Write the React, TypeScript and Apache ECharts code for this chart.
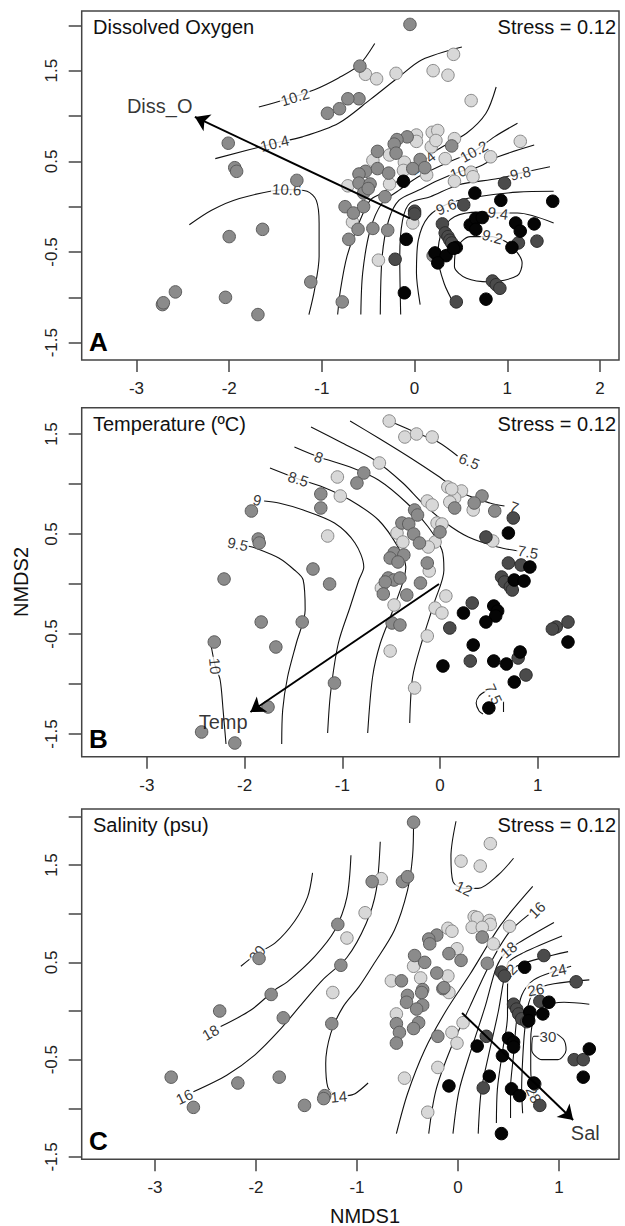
import React, { useEffect, useRef } from "react";
import * as echarts from "echarts";

type P = [number, number];
interface Contour { text?: string; at?: P; rot?: number; lines: P[][] }

const FONT = "'Liberation Sans', Arial, Helvetica, sans-serif";

// ---------- tick values ----------
const xTicksA = [-3, -2, -1, 0, 1, 2];
const xTicksB = [-3, -2, -1, 0, 1];
const xTicksC = [-3, -2, -1, 0, 1];
const yTicksA = [-1.5, -1, -0.5, 0, 0.5, 1, 1.5, 2];
const yTicksB = [-1.5, -1, -0.5, 0, 0.5, 1, 1.5];
const yTicksC = [-1.5, -1, -0.5, 0, 0.5, 1, 1.5, 2];
const yLabels = [-1.5, -0.5, 0.5, 1.5];

// ---------- Panel A : Dissolved Oxygen ----------
const lightA: P[] = [[-0.53,1.46],[-0.41,1.41],[-0.20,1.47],[0.42,1.68],[0.20,1.50],[0.36,1.45],[0.61,1.17],[1.14,0.72],[0.82,0.55],[0.19,0.82],[0.25,0.84],[0.02,0.79],[0.02,0.72],[0.43,0.75],[0.18,0.66],[0.23,0.73],[-0.27,0.57],[-0.45,0.51],[0.33,0.53],[-0.11,0.49],[-0.12,0.40],[0.13,0.35],[0.61,0.38],[0.43,0.28],[0.63,0.33],[-0.27,0.25],[-0.72,0.23],[-0.67,-0.17],[-0.02,-0.18],[-0.39,-0.59]];
const mediumA: P[] = [[-0.05,2.01],[-0.59,1.55],[-0.60,1.19],[-0.72,1.19],[-0.81,1.08],[-0.94,1.03],[-2.01,0.70],[-1.94,0.43],[-1.92,0.39],[-1.27,0.29],[-0.08,0.77],[-0.19,0.74],[-0.22,0.69],[0.40,0.67],[-0.40,0.61],[-0.20,0.59],[0.06,0.52],[-0.02,0.42],[0.11,0.43],[-0.53,0.39],[-0.40,0.42],[-0.28,0.37],[-0.60,0.36],[-0.60,0.26],[-0.48,0.25],[-0.55,0.15],[-0.32,0.11],[-0.50,0.20],[-0.75,0.00],[-0.66,-0.07],[-0.55,0.00],[-0.61,-0.25],[-0.45,-0.24],[-0.29,-0.26],[-0.71,-0.36],[0.20,-0.54],[-1.12,-0.83],[-0.78,-1.05],[-2.00,-0.33],[-1.64,-0.25],[-2.58,-0.94],[-2.04,-1.00],[-2.72,-1.08],[-2.71,-1.06],[-1.69,-1.19]];
const darkA: P[] = [[0.97,0.26],[0.53,0.02],[0.00,-0.05],[0.00,-0.08],[0.30,-0.19],[0.33,-0.29],[0.36,-0.33],[0.38,-0.37],[0.40,-0.40],[-0.21,-0.58],[1.12,-0.40],[1.32,-0.38],[0.84,-0.82],[0.88,-0.86],[0.92,-0.90],[0.45,-1.05]];
const blackA: P[] = [[-0.12,0.28],[0.65,0.15],[0.93,0.07],[1.49,0.06],[0.60,-0.20],[0.66,-0.13],[0.73,-0.12],[0.66,-0.25],[1.09,-0.18],[1.29,-0.19],[1.14,-0.27],[1.05,-0.45],[0.22,-0.51],[0.34,-0.54],[0.25,-0.62],[0.45,-0.45],[0.42,-0.46],[-0.09,-0.36],[-0.11,-0.95],[0.77,-1.02]];
const contoursA: Contour[] = [
  { text: "10.2", at: [-1.29, 1.21], rot: 17, lines: [[[-1.68,1.10],[-1.40,1.18],[-1.08,1.29],[-0.82,1.42],[-0.60,1.56],[-0.43,1.80]]] },
  { text: "10.4", at: [-1.51, 0.70], rot: 14, lines: [[[-2.15,0.53],[-1.51,0.70],[-1.21,0.77],[-0.82,0.92],[-0.48,1.18],[-0.17,1.43],[0.08,1.62],[0.51,1.76]]] },
  { text: "10.6", at: [-1.38, 0.19], rot: -3, lines: [[[-2.43,-0.20],[-2.19,-0.04],[-1.89,0.09],[-1.38,0.19],[-1.16,0.17],[-1.06,0.07],[-1.03,-0.18],[-1.03,-0.55],[-1.08,-0.92],[-1.14,-1.19]]] },
  { text: "10.4", at: [0.08, 0.48], rot: 37, lines: [[[0.88,1.32],[0.77,1.03],[0.56,0.81],[0.25,0.63],[0.08,0.48],[-0.17,0.29],[-0.35,0.15],[-0.48,0.07],[-0.60,-0.18],[-0.73,-0.55],[-0.80,-0.92],[-0.83,-1.19]]] },
  { text: "10.2", at: [0.64, 0.61], rot: 29, lines: [[[1.11,0.92],[0.86,0.77],[0.64,0.61],[0.34,0.48],[0.04,0.33],[-0.17,0.18],[-0.35,0.04],[-0.48,-0.26],[-0.56,-0.73],[-0.58,-1.19]]] },
  { text: "10", at: [0.47, 0.38], rot: 20, lines: [[[1.29,0.68],[0.90,0.55],[0.69,0.44],[0.47,0.38],[0.25,0.29],[0.04,0.18],[-0.17,0.07],[-0.28,-0.15],[-0.35,-0.55],[-0.37,-1.19]]] },
  { text: "9.8", at: [1.14, 0.37], rot: 12, lines: [[[1.46,0.44],[1.14,0.37],[0.90,0.31],[0.47,0.24],[0.17,0.11],[-0.05,0.04],[-0.13,-0.15],[-0.16,-0.55],[-0.15,-1.19]]] },
  { text: "9.6", at: [0.34, 0.00], rot: 22, lines: [[[1.50,0.17],[1.11,0.16],[0.68,0.11],[0.38,0.04],[0.15,-0.11],[0.04,-0.37],[0.02,-0.73],[0.06,-1.08]]] },
  { text: "9.4", at: [0.90, -0.07], rot: -8, lines: [[[1.50,-0.18],[1.11,-0.07],[0.90,-0.07],[0.69,-0.06],[0.43,-0.11],[0.30,-0.26],[0.25,-0.55],[0.32,-0.85],[0.43,-1.08]]] },
  { text: "9.2", at: [0.84, -0.33], rot: -15, lines: [[[0.84,-0.33],[0.60,-0.33],[0.45,-0.46],[0.43,-0.66],[0.56,-0.79],[0.81,-0.83],[1.11,-0.76],[1.16,-0.62],[1.11,-0.51],[0.99,-0.39],[0.84,-0.33]]] },
];
const arrowA: P[] = [[-0.05, -0.13], [-2.37, 0.99]];
const arrowLabelA: P = [-2.75, 1.11];

// ---------- Panel B : Temperature ----------
const lightB: P[] = [[-0.52,1.63],[-0.36,1.47],[-0.24,1.50],[-0.08,1.47],[-0.62,1.21],[-1.05,1.07],[-1.02,0.88],[-1.15,0.48],[0.08,0.97],[0.22,0.93],[0.15,0.86],[0.12,0.95],[0.34,0.74],[0.10,0.82],[0.54,0.43],[-0.13,0.83],[-0.08,0.79],[-0.03,0.61],[0.02,0.60],[-0.44,0.51],[-0.38,0.42],[-0.05,0.42],[-0.12,0.37],[-0.11,0.13],[-0.60,-0.04],[0.06,-0.12],[-0.47,-0.21],[-0.05,-0.24],[0.02,-0.29],[-0.13,-0.52],[-0.51,-0.67],[-0.26,-1.04]];
const mediumB: P[] = [[-0.78,1.11],[-0.85,1.01],[-1.22,0.90],[-1.22,0.76],[-1.93,0.73],[-1.86,0.45],[-1.85,0.41],[0.43,0.88],[0.35,0.81],[0.15,0.76],[0.56,0.73],[-0.26,0.74],[-0.23,0.69],[-0.39,0.61],[-0.32,0.60],[0.00,0.52],[-0.27,0.50],[-0.21,0.41],[-0.47,0.31],[-0.51,0.26],[-0.37,0.29],[-0.13,0.21],[-0.43,0.22],[-1.30,0.15],[-0.53,0.06],[-0.47,0.04],[-0.41,0.06],[-0.56,0.02],[-0.20,0.01],[-0.58,-0.10],[-0.34,-0.11],[-0.49,-0.39],[-0.41,-0.41],[-2.21,0.05],[-1.83,-0.38],[-1.41,-0.38],[-1.13,0.00],[-2.31,-0.58],[-1.68,-0.63],[-1.08,-0.99],[-1.76,-1.23],[-2.44,-1.48],[-2.10,-1.59]];
const darkB: P[] = [[0.75,0.66],[0.47,0.47],[0.70,0.21],[0.83,0.19],[0.63,0.07],[0.66,0.02],[0.72,-0.03],[0.74,-0.06],[0.10,-0.44],[0.33,-0.19],[0.31,-0.77],[0.80,-0.74],[0.88,-0.91],[1.19,-0.43],[1.31,-0.38],[1.15,-0.45]];
const blackB: P[] = [[0.70,0.51],[0.92,0.17],[0.76,0.04],[0.86,0.03],[0.24,-0.29],[0.55,-0.22],[0.59,-0.27],[0.57,-0.32],[0.47,-0.38],[0.34,-0.61],[0.03,-0.82],[0.55,-0.77],[0.68,-0.80],[0.82,-0.68],[0.76,-0.98],[0.50,-1.24],[1.31,-0.58]];
const contoursB: Contour[] = [
  { text: "6.5", at: [0.30, 1.23], rot: -22, lines: [[[-0.47,1.61],[-0.26,1.52],[-0.02,1.42],[0.18,1.28]]] },
  { text: "7", at: [0.76, 0.77], rot: -20, lines: [[[-0.92,1.63],[-0.63,1.46],[-0.30,1.26],[-0.02,1.08],[0.23,0.91],[0.51,0.81],[0.66,0.78]]] },
  { text: "7.5", at: [0.90, 0.32], rot: -10, lines: [[[-1.32,1.57],[-1.00,1.41],[-0.67,1.24],[-0.38,1.01],[-0.18,0.81],[0.06,0.61],[0.29,0.47],[0.59,0.37],[0.80,0.33]]] },
  { text: "8", at: [-1.24, 1.27], rot: -20, lines: [[[-1.49,1.37],[-1.24,1.27],[-0.92,1.17],[-0.63,1.04],[-0.34,0.81],[-0.12,0.57],[0.02,0.34],[0.04,0.14],[-0.06,-0.19],[-0.18,-0.56],[-0.28,-0.93],[-0.31,-1.39]]] },
  { text: "8.5", at: [-1.45, 1.05], rot: -18, lines: [[[-1.74,1.16],[-1.45,1.05],[-1.20,0.97],[-0.92,0.84],[-0.63,0.64],[-0.43,0.37],[-0.35,0.17],[-0.47,-0.23],[-0.61,-0.59],[-0.69,-0.93],[-0.74,-1.49]]] },
  { text: "9", at: [-1.87, 0.84], rot: -12, lines: [[[-1.80,0.83],[-1.65,0.81],[-1.40,0.74],[-1.08,0.61],[-0.87,0.41],[-0.78,0.17],[-0.83,0.04],[-0.92,-0.23],[-1.04,-0.59],[-1.12,-1.09],[-1.15,-1.49]]] },
  { text: "9.5", at: [-2.07, 0.40], rot: -12, lines: [[[-1.97,0.38],[-1.89,0.36],[-1.65,0.26],[-1.49,0.14],[-1.40,0.04],[-1.38,-0.26],[-1.47,-0.59],[-1.56,-0.93],[-1.61,-1.26],[-1.62,-1.60]]] },
  { text: "10", at: [-2.30, -0.82], rot: -85, lines: [[[-2.34,-0.63],[-2.30,-0.82],[-2.25,-0.96],[-2.22,-1.26],[-2.19,-1.60]]] },
  { text: "7.5", at: [0.55, -1.10], rot: -65, lines: [[[0.47,-1.07],[0.40,-1.12],[0.37,-1.19],[0.40,-1.27],[0.44,-1.30]], [[0.65,-1.17],[0.65,-1.28]]] },
];
const arrowB: P[] = [[-0.01, 0.00], [-1.94, -1.28]];
const arrowLabelB: P = [-2.22, -1.38];

// ---------- Panel C : Salinity ----------
const lightC: P[] = [[0.32,1.72],[0.03,1.54],[0.22,1.49],[-0.76,1.36],[-0.92,1.01],[-1.10,0.75],[0.16,0.97],[0.19,0.96],[0.31,0.93],[0.32,0.89],[0.14,0.86],[0.24,0.86],[0.51,0.87],[-0.10,0.85],[-0.06,0.82],[0.35,0.69],[-0.01,0.64],[-0.44,0.46],[-0.10,0.36],[-0.37,0.34],[-0.66,0.31],[-1.24,0.19],[-0.09,0.19],[-0.61,-0.03],[-0.06,-0.22],[-0.01,-0.33],[0.05,-0.12],[-0.20,-0.58],[-0.53,-0.69],[-0.30,-1.04]];
const mediumC: P[] = [[-0.44,1.94],[-0.85,1.33],[-0.55,1.33],[-0.50,1.38],[-1.19,0.89],[-1.16,0.47],[-1.97,0.54],[-0.21,0.78],[-0.29,0.74],[-0.28,0.69],[0.24,0.76],[-0.09,0.59],[0.03,0.52],[-0.43,0.57],[-0.33,0.50],[0.29,0.49],[-0.21,0.39],[-0.56,0.31],[-0.35,0.22],[-0.15,0.23],[-1.85,0.17],[-2.36,0.00],[-1.73,-0.07],[-1.25,-0.13],[-0.50,0.16],[-0.51,0.09],[-0.36,0.19],[-0.35,0.06],[-0.41,0.02],[-0.14,0.24],[-0.61,-0.13],[-0.58,-0.22],[-0.39,-0.12],[-0.44,-0.18],[-0.61,-0.33],[-0.20,-0.26],[-2.84,-0.68],[-2.62,-0.99],[-2.18,-0.74],[-1.77,-0.68],[-1.52,-0.97],[-1.32,-0.87],[-1.33,-0.90]];
const darkC: P[] = [[0.43,0.40],[0.85,0.57],[1.17,0.30],[0.28,-0.26],[0.25,-0.79],[0.81,-0.97],[0.55,0.07],[0.58,0.02],[0.60,-0.03],[0.63,-0.08],[0.68,-0.11],[0.81,0.10],[0.76,-0.75],[1.15,-0.50],[1.24,-0.50],[0.46,0.36]];
const blackC: P[] = [[0.66,0.45],[-0.09,-0.77],[0.19,-0.36],[0.31,-0.67],[0.44,-0.46],[0.50,-0.28],[0.55,-0.32],[0.55,-0.37],[0.53,-0.80],[0.61,-0.87],[0.75,-0.74],[0.43,-1.26],[0.71,-0.01],[0.90,0.09],[0.84,-0.03],[0.70,-0.10],[1.30,-0.39],[1.24,-0.68]];
const contoursC: Contour[] = [
  { text: "20", at: [-1.99, 0.59], rot: 50, lines: [[[-2.15,0.46],[-1.99,0.59],[-1.81,0.70],[-1.62,0.92],[-1.49,1.17],[-1.44,1.42]]] },
  { text: "18", at: [-2.45, -0.22], rot: 30, lines: [[[-2.35,-0.16],[-2.05,0.01],[-1.81,0.22],[-1.69,0.30],[-1.42,0.56],[-1.22,0.83],[-1.10,1.17],[-1.06,1.60]]] },
  { text: "16", at: [-2.71, -0.88], rot: 25, lines: [[[-2.62,-0.83],[-2.29,-0.66],[-2.01,-0.45],[-1.77,-0.20],[-1.54,0.08],[-1.34,0.32],[-1.10,0.55],[-0.91,0.90],[-0.81,1.24],[-0.77,1.74]]] },
  { text: "14", at: [-1.18, -0.88], rot: 5, lines: [[[-0.44,1.95],[-0.45,1.59],[-0.50,1.24],[-0.63,0.83],[-0.83,0.49],[-0.98,0.25],[-1.14,0.04],[-1.26,-0.23],[-1.31,-0.54],[-1.29,-0.78],[-1.22,-0.87]], [[-1.10,-0.87],[-1.02,-0.85],[-0.89,-0.74]]] },
  { text: "12", at: [0.06, 1.26], rot: -25, lines: [[[-0.02,1.95],[-0.07,1.59],[-0.05,1.33],[0.06,1.26],[0.20,1.26],[0.40,1.40],[0.55,1.57]]] },
  { lines: [[[-0.61,-1.26],[-0.50,-0.85],[-0.33,-0.40],[-0.12,0.00],[0.12,0.38],[0.42,0.88],[0.74,1.28]]] },
  { text: "16", at: [0.78, 1.04], rot: 45, lines: [[[-0.29,-1.26],[-0.22,-0.82],[-0.07,-0.38],[0.12,0.05],[0.30,0.45],[0.50,0.80],[0.70,0.99]]] },
  { text: "18", at: [0.50, 0.63], rot: 40, lines: [[[-0.05,-1.26],[0.01,-0.82],[0.13,-0.40],[0.27,0.05],[0.38,0.45],[0.47,0.60],[0.60,0.70],[0.95,0.91]]] },
  { lines: [[[0.20,-1.26],[0.23,-0.82],[0.31,-0.42],[0.40,0.00],[0.45,0.30],[0.50,0.50],[0.65,0.60],[1.03,0.77]]] },
  { text: "22", at: [0.50, 0.40], rot: 45, lines: [[[0.38,-1.15],[0.39,-0.80],[0.44,-0.42],[0.49,-0.05],[0.49,0.22],[0.50,0.38],[0.62,0.48],[1.09,0.61]]] },
  { text: "24", at: [0.99, 0.42], rot: 12, lines: [[[0.52,-1.10],[0.52,-0.80],[0.55,-0.45],[0.58,-0.10],[0.63,0.16],[0.75,0.32],[0.99,0.42],[1.12,0.46]]] },
  { text: "26", at: [0.77, 0.22], rot: 10, lines: [[[0.64,-1.05],[0.63,-0.80],[0.64,-0.50],[0.66,-0.20],[0.70,0.08],[0.77,0.22],[0.95,0.28],[1.30,0.32]]] },
  { text: "28", at: [0.75, -0.86], rot: -65, lines: [[[1.30,0.07],[1.05,0.09],[0.85,0.05],[0.76,-0.05],[0.72,-0.30],[0.72,-0.60],[0.75,-0.86],[0.80,-1.00]]] },
  { text: "30", at: [0.89, -0.26], rot: 0, lines: [[[0.82,-0.26],[0.75,-0.26],[0.73,-0.40],[0.83,-0.50],[0.99,-0.50],[1.07,-0.40],[1.05,-0.30],[0.97,-0.23]]] },
];
const arrowC: P[] = [[0.04, -0.02], [1.14, -1.12]];
const arrowLabelC: P = [1.26, -1.25];

// ---------- layout ----------
const LEFT = 81.7, RIGHT = 619;
const panels = [
  { top: 11, bottom: 360, x: [-3.591, 2.205], y: [-1.691, 2.158], xt: xTicksA, yt: yTicksA },
  { top: 407.7, bottom: 756.7, x: [-3.667, 1.832], y: [-1.727, 1.763], xt: xTicksB, yt: yTicksB },
  { top: 809, bottom: 1159.3, x: [-3.726, 1.594], y: [-1.524, 2.076], xt: xTicksC, yt: yTicksC },
];

const shades = [
  { fill: "#d8d8d8", border: "#8a8a8a" },
  { fill: "#8b8b8b", border: "#5c5c5c" },
  { fill: "#4b4b4b", border: "#2c2c2c" },
  { fill: "#050505", border: "#000000" },
];

function panelSeries(i: number, contours: Contour[], groups: P[][], arrow: P[], arrowText: string, arrowAt: P) {
  const s: any[] = [];
  contours.forEach((c) => {
    c.lines.forEach((pts) => {
      s.push({
        type: "line", xAxisIndex: i, yAxisIndex: i, data: pts, showSymbol: false, symbol: "none",
        smooth: 0.3, silent: true, z: 2, lineStyle: { color: "#111", width: 1.1 },
      });
    });
  });
  s.push({
    type: "scatter", xAxisIndex: i, yAxisIndex: i, symbolSize: 0, silent: true, z: 3,
    data: contours.filter((c) => c.text).map((c) => ({ value: c.at, label: { formatter: c.text, rotate: c.rot } })),
    label: { show: true, position: "inside", color: "#000", fontSize: 15, fontFamily: FONT, backgroundColor: "#fff", padding: [0, 1] },
  });
  groups.forEach((g, k) => {
    s.push({
      type: "scatter", xAxisIndex: i, yAxisIndex: i, data: g, symbol: "circle", symbolSize: 12.5, silent: true, z: 4,
      itemStyle: { color: shades[k].fill, borderColor: shades[k].border, borderWidth: 1, opacity: 1 },
    });
  });
  s.push({
    type: "scatter", xAxisIndex: i, yAxisIndex: i, data: [{ value: arrowAt }], symbolSize: 0, silent: true, z: 5,
    label: { show: true, position: "inside", formatter: arrowText, color: "#000", fontSize: 20, fontFamily: FONT },
  });
  s.push({
    type: "line", xAxisIndex: i, yAxisIndex: i, data: [], silent: true, z: 5,
    markLine: {
      silent: true, symbol: ["none", "arrow"], symbolSize: 14, animation: false,
      lineStyle: { color: "#000", width: 2, type: "solid" }, label: { show: false },
      data: [[{ coord: arrow[0] }, { coord: arrow[1] }]],
    },
  });
  return s;
}

export default function App() {
  const ref = useRef<HTMLDivElement>(null);
  useEffect(() => {
    if (!ref.current) return;
    const chart = echarts.init(ref.current, undefined, { renderer: "svg" });
    const grid = panels.map((p) => ({
      left: LEFT, top: p.top, width: RIGHT - LEFT, height: p.bottom - p.top,
      show: true, borderColor: "#444", borderWidth: 1.5, backgroundColor: "transparent", containLabel: false,
    }));
    const xAxis = panels.map((p, i) => ({
      type: "value", gridIndex: i, min: p.x[0], max: p.x[1], position: "bottom",
      axisLine: { show: false, onZero: false }, splitLine: { show: false },
      axisTick: { show: true, inside: false, length: 12, customValues: p.xt, lineStyle: { color: "#444", width: 1.5 } },
      axisLabel: { show: true, customValues: p.xt, margin: 20, fontSize: 17, color: "#222", fontFamily: FONT, formatter: (v: number) => String(v) },
    }));
    const yAxis = panels.map((p, i) => ({
      type: "value", gridIndex: i, min: p.y[0], max: p.y[1], position: "left",
      axisLine: { show: false, onZero: false }, splitLine: { show: false },
      axisTick: { show: true, inside: false, length: 13, customValues: p.yt, lineStyle: { color: "#444", width: 1.5 } },
      axisLabel: { show: true, customValues: yLabels, rotate: 90, margin: 22, fontSize: 17, color: "#222", fontFamily: FONT, formatter: (v: number) => String(v) },
    }));
    const series = [
      ...panelSeries(0, contoursA, [lightA, mediumA, darkA, blackA], arrowA, "Diss_O", arrowLabelA),
      ...panelSeries(1, contoursB, [lightB, mediumB, darkB, blackB], arrowB, "Temp", arrowLabelB),
      ...panelSeries(2, contoursC, [lightC, mediumC, darkC, blackC], arrowC, "Sal", arrowLabelC),
    ];
    const titles = ["Dissolved Oxygen", "Temperature (ºC)", "Salinity (psu)"];
    const letters = ["A", "B", "C"];
    const graphic: any[] = [];
    panels.forEach((p, i) => {
      graphic.push({ type: "text", left: 93, top: p.top + 6, style: { text: titles[i], fontSize: 20, fontFamily: FONT, fill: "#111" } });
      graphic.push({ type: "text", right: 625 - 616, top: p.top + 6, style: { text: "Stress = 0.12", fontSize: 20, fontFamily: FONT, fill: "#111" } });
      graphic.push({ type: "text", left: 89, top: p.bottom - 31, style: { text: letters[i], fontSize: 26, fontWeight: "bold", fontFamily: FONT, fill: "#000" } });
    });
    graphic.push({ type: "text", x: 21, y: 582, rotation: Math.PI / 2, style: { text: "NMDS2", fontSize: 20, fontFamily: FONT, fill: "#111", textAlign: "center", textVerticalAlign: "middle" } });
    graphic.push({ type: "text", x: 365, y: 1216, style: { text: "NMDS1", fontSize: 20, fontFamily: FONT, fill: "#111", textAlign: "center", textVerticalAlign: "middle" } });

    chart.setOption({
      animation: false,
      backgroundColor: "#fff",
      textStyle: { fontFamily: FONT },
      grid, xAxis, yAxis, series, graphic,
    });
    return () => chart.dispose();
  }, []);
  return <div ref={ref} style={{ position: "absolute", left: 0, top: 0, width: 625, height: 1226 }} />;
}
